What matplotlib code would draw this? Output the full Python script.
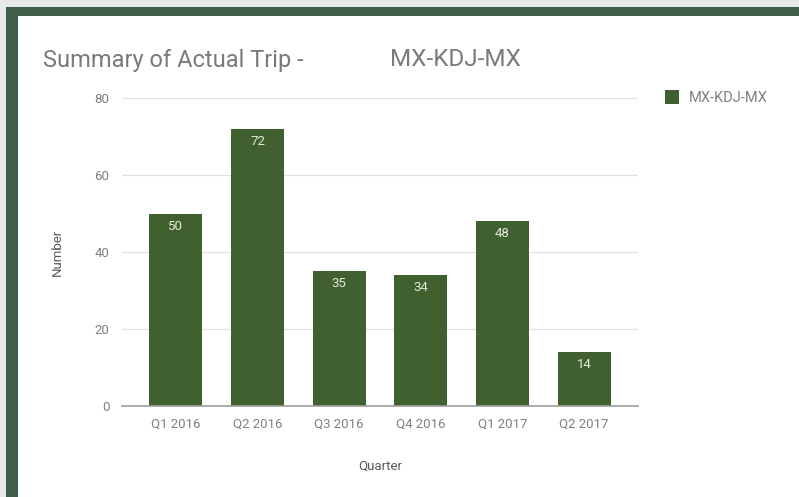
import matplotlib
matplotlib.use("Agg")
import matplotlib.pyplot as plt
from matplotlib.patches import Rectangle

plt.rcParams["font.family"] = ["Roboto", "DejaVu Sans"]

# data
quarters = ["Q1 2016", "Q2 2016", "Q3 2016", "Q4 2016", "Q1 2017", "Q2 2017"]
trips = [50, 72, 35, 34, 48, 14]
series_name = "MX-KDJ-MX"
y_ticks = [0, 20, 40, 60, 80]

W, H = 799, 497
bar_color = "#41602f"
text_gray = "#808080"

fig = plt.figure(figsize=(W / 100, H / 100), dpi=100)
fig.patch.set_facecolor("#e8e9ea")

# frame: dark green border then white card (behind the axes)
fig.patches.append(Rectangle((6 / W, 0), 1, (H - 7) / H, transform=fig.transFigure,
                             facecolor="#3e5e48", edgecolor="none", zorder=-2))
fig.patches.append(Rectangle((18 / W, 0), 1, (H - 16) / H, transform=fig.transFigure,
                             facecolor="white", edgecolor="none", zorder=-1))

ax = fig.add_axes([122 / W, 91 / H, 516 / W, 308 / H])
ax.set_zorder(2)
ax.set_facecolor("none")

x = list(range(len(quarters)))
ax.bar(x, trips, width=0.65, color=bar_color, zorder=3, label=series_name)

for xi, v in zip(x, trips):
    ax.text(xi, v - 1.6, str(v), ha="center", va="top", color="#e3ebdb",
            fontsize=9.5, zorder=4)

ax.set_xlim(-0.66, 5.66)
ax.set_ylim(0, 80)
ax.set_yticks(y_ticks)
ax.set_xticks(x)
ax.set_xticklabels(quarters)
ax.tick_params(axis="both", length=0, labelsize=9.5, labelcolor=text_gray)
ax.tick_params(axis="y", pad=9)
ax.tick_params(axis="x", pad=8)

ax.grid(axis="y", color="#e0e0e0", linewidth=0.9, zorder=0)
for s in ["top", "right", "left"]:
    ax.spines[s].set_visible(False)
ax.spines["bottom"].set_color("#9e9e9e")
ax.spines["bottom"].set_linewidth(1.2)
ax.spines["bottom"].set_zorder(5)

ax.set_xlabel("Quarter", fontsize=9.5, color="#5a5a5a")
ax.set_ylabel("Number", fontsize=9.5, color="#5a5a5a")
ax.xaxis.set_label_coords(0.5, -60 / 308)
ax.yaxis.set_label_coords(-65 / 516, 0.5)
ax.xaxis.label.set_va("center")
ax.yaxis.label.set_va("center")

# title (two pieces with a wide gap, as in the original)
fig.text(43 / W, 1 - 60 / H, "Summary of Actual Trip -",
         fontsize=17, color="#7a7a7a", va="center", ha="left")
fig.text(390 / W, 1 - 60 / H, "MX-KDJ-MX",
         fontsize=17.5, color="#7a7a7a", va="center", ha="left")

# legend
fig.patches.append(Rectangle((665 / W, 1 - 104 / H), 14 / W, 14 / H,
                             transform=fig.transFigure, facecolor=bar_color,
                             edgecolor="none", zorder=3))
fig.text(689 / W, 1 - 97.5 / H, series_name, fontsize=10.5, color=text_gray,
         va="center", ha="left")

fig.savefig("out.png", dpi=100)
